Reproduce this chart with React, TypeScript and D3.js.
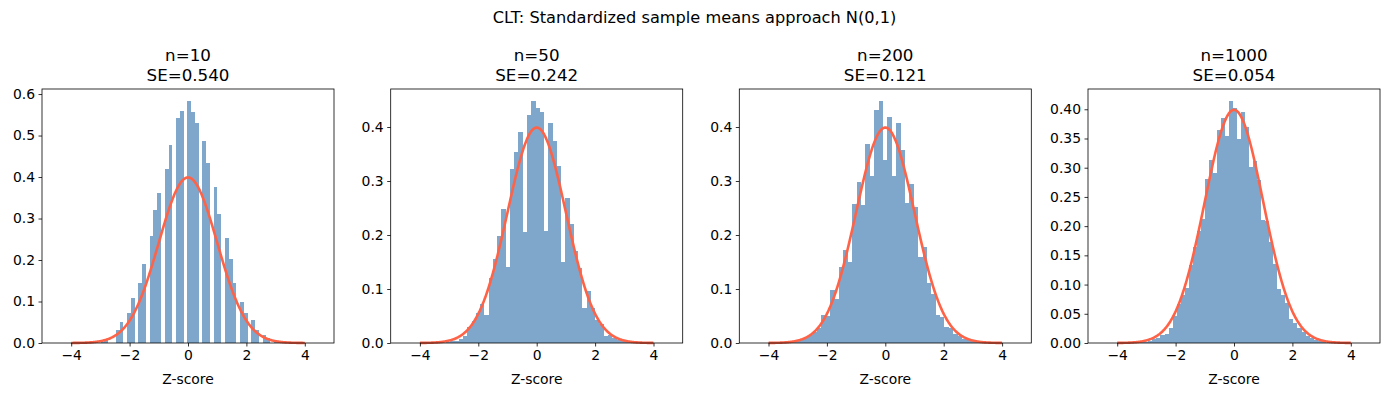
import React, { useEffect, useRef } from 'react';
import * as d3 from 'd3';

// sample sizes and their standard errors (panel titles)
const sampleSizes = [10, 50, 200, 1000];
const seValues = ['0.540', '0.242', '0.121', '0.054'];

// histogram bins: left edge of first bin and bin width, per panel
const binStarts = [-2.989, -3.107, -3.238, -3.208];
const binWidths = [0.129, 0.146, 0.1504, 0.138];

// density of each bin
const densN10 = [
    0.003, 0.007, 0, 0, 0.031, 0.050, 0, 0.073, 0.109, 0, 0.145, 0.191, 0, 0.258, 0.321, 0.361,
    0, 0.419, 0.477, 0, 0.542, 0.558, 0, 0.583, 0.556, 0.530, 0, 0.486, 0.433, 0, 0.375, 0.310,
    0, 0.253, 0.202, 0.144, 0, 0.098, 0.072, 0, 0.056, 0.032, 0, 0.020, 0.012, 0, 0.004,
];
const densN50 = [
    0.001, 0.003, 0.004, 0.007, 0.013, 0.029, 0.040, 0.055, 0.072, 0.051, 0.120, 0.155, 0.199,
    0.249, 0.140, 0.323, 0.353, 0.390, 0.205, 0.423, 0.448, 0.436, 0.427, 0.207, 0.407, 0.375,
    0.327, 0.150, 0.268, 0.220, 0.170, 0.138, 0.064, 0.096, 0.064, 0.042, 0.035, 0.013, 0.014,
    0.010, 0.006, 0.004, 0.002,
];
const densN200 = [
    0.002, 0.004, 0.006, 0.010, 0.014, 0.020, 0.027, 0.052, 0.050, 0.098, 0.081, 0.140, 0.172,
    0.150, 0.257, 0.299, 0.255, 0.368, 0.309, 0.431, 0.448, 0.338, 0.418, 0.310, 0.407, 0.357,
    0.259, 0.294, 0.251, 0.160, 0.177, 0.112, 0.090, 0.051, 0.049, 0.029, 0.028, 0.017, 0.013,
    0.008, 0.005, 0.003, 0.001,
];
const densN1000 = [
    0.001, 0.002, 0.004, 0.006, 0.009, 0.013, 0.016, 0.026, 0.046, 0.066, 0.082, 0.094, 0.133,
    0.164, 0.191, 0.213, 0.280, 0.313, 0.291, 0.364, 0.385, 0.354, 0.414, 0.402, 0.349, 0.395,
    0.369, 0.301, 0.311, 0.279, 0.210, 0.208, 0.172, 0.135, 0.092, 0.083, 0.068, 0.041, 0.035,
    0.026, 0.018, 0.012, 0.008, 0.005, 0.003, 0.002,
];
const densities = [densN10, densN50, densN200, densN1000];

// tick labels
const xTicks = [-4, -2, 0, 2, 4];
const yTicksList = [
    [0, 0.1, 0.2, 0.3, 0.4, 0.5, 0.6],
    [0, 0.1, 0.2, 0.3, 0.4],
    [0, 0.1, 0.2, 0.3, 0.4],
    [0, 0.05, 0.1, 0.15, 0.2, 0.25, 0.3, 0.35, 0.4],
];
const yFormats = ['.1f', '.1f', '.1f', '.2f'];

const W = 1389;
const H = 396;
const panelLeft = [42, 390.7, 739.3, 1088];
const panelW = 292;
const top = 89;
const bottom = 343;
const FONT = 'DejaVu Sans, sans-serif';

const pdf = (z: number) => Math.exp(-z * z / 2) / Math.sqrt(2 * Math.PI);

function minus(s: string) {
    return s.replace('-', '\u2212');
}

export default function App() {
    const ref = useRef<SVGSVGElement>(null);

    useEffect(() => {
        const svg = d3.select(ref.current);
        svg.selectAll('*').remove();

        svg.append('text')
            .attr('x', W / 2)
            .attr('y', 23)
            .attr('text-anchor', 'middle')
            .attr('font-family', FONT)
            .attr('font-size', 16.2)
            .text('CLT: Standardized sample means approach N(0,1)');

        const h = bottom - top;
        const curvePts = d3.range(-4, 4.0001, 0.02);

        sampleSizes.forEach((n, i) => {
            const dens = densities[i];
            const g = svg.append('g').attr('transform', `translate(${panelLeft[i]},${top})`);

            const x = d3.scaleLinear().domain([-5, 5]).range([0, panelW]);
            const ymax = Math.max(d3.max(dens) as number, pdf(0)) * 1.05;
            const y = d3.scaleLinear().domain([0, ymax]).range([h, 0]);

            const bins = dens
                .map((d, k) => ({ x0: binStarts[i] + k * binWidths[i], x1: binStarts[i] + (k + 1) * binWidths[i], d }))
                .filter((b) => b.d > 0);

            g.selectAll('rect.bar')
                .data(bins)
                .join('rect')
                .attr('class', 'bar')
                .attr('x', (b) => x(b.x0))
                .attr('width', (b) => x(b.x1) - x(b.x0))
                .attr('y', (b) => y(b.d))
                .attr('height', (b) => y(0) - y(b.d))
                .attr('fill', '#7ea7cb')
                .attr('shape-rendering', 'crispEdges');

            const line = d3.line<number>()
                .x((z) => x(z))
                .y((z) => y(pdf(z)));

            g.append('path')
                .datum(curvePts)
                .attr('fill', 'none')
                .attr('stroke', '#ff6347')
                .attr('stroke-width', 2.6)
                .attr('stroke-linejoin', 'round')
                .attr('d', line);

            const xAxis = g.append('g')
                .attr('transform', `translate(0,${h})`)
                .call(d3.axisBottom(x)
                    .tickValues(xTicks)
                    .tickSize(3.5)
                    .tickPadding(3.5)
                    .tickFormat((d) => minus(String(d))));
            xAxis.select('.domain').remove();

            const yAxis = g.append('g')
                .call(d3.axisLeft(y)
                    .tickValues(yTicksList[i])
                    .tickSize(3.5)
                    .tickPadding(3.5)
                    .tickFormat(d3.format(yFormats[i]) as any));
            yAxis.select('.domain').remove();

            [xAxis, yAxis].forEach((ax) => {
                ax.attr('font-family', FONT).attr('font-size', 13.9);
                ax.selectAll('line').attr('stroke', '#000').attr('stroke-width', 0.8);
                ax.selectAll('text').attr('fill', '#000');
            });

            g.append('rect')
                .attr('width', panelW)
                .attr('height', h)
                .attr('fill', 'none')
                .attr('stroke', '#000')
                .attr('stroke-width', 0.8);

            g.append('text')
                .attr('x', panelW / 2)
                .attr('y', h + 41)
                .attr('text-anchor', 'middle')
                .attr('font-family', FONT)
                .attr('font-size', 13.9)
                .text('Z-score');

            const title = g.append('text')
                .attr('text-anchor', 'middle')
                .attr('font-family', FONT)
                .attr('font-size', 16.7);
            title.append('tspan').attr('x', panelW / 2).attr('y', -28).text(`n=${n}`);
            title.append('tspan').attr('x', panelW / 2).attr('y', -8).text(`SE=${seValues[i]}`);
        });
    }, []);

    return (
        <div style={{ position: 'absolute', left: 0, top: 0 }}>
            <svg ref={ref} width={W} height={H} style={{ display: 'block', background: '#fff' }} />
        </div>
    );
}
